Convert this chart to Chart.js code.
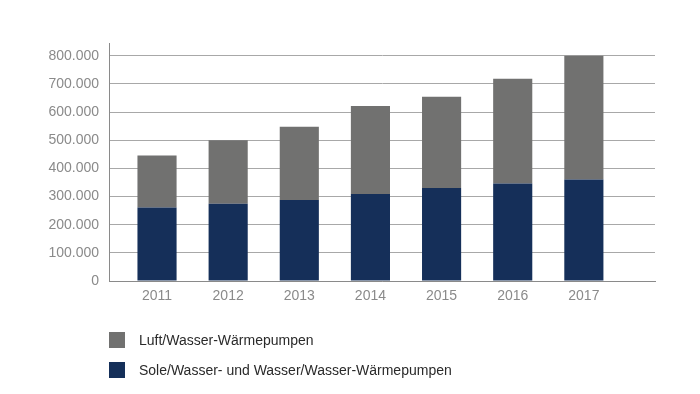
<!DOCTYPE html>
<html>
<head>
<meta charset="utf-8">
<script src="https://cdn.jsdelivr.net/npm/chart.js@4.4.0/dist/chart.umd.min.js"></script>
<style>
    html, body { margin: 0; padding: 0; background: #fff; }
    #wrap { position: relative; width: 700px; height: 394px; }
    #legend { position: absolute; left: 109px; top: 332px; font-family: "Liberation Sans", Arial, sans-serif; font-size: 14px; color: #2a2a2a; }
    .item { display: flex; align-items: center; height: 16px; margin-bottom: 14px; }
    .box { width: 16px; height: 16px; margin-right: 14px; }
</style>
</head>
<body>
<div id="wrap">
    <canvas id="bar" width="700" height="394"></canvas>
    <div id="legend"></div>
</div>
<script>
const years = [2011, 2012, 2013, 2014, 2015, 2016, 2017];
const soleWasser = [261000, 274000, 288000, 309000, 330000, 346000, 360000];
const luftWasser = [185000, 226000, 260000, 312000, 324000, 372000, 440000];
const yTicks = [0, 100000, 200000, 300000, 400000, 500000, 600000, 700000, 800000];
const seriesNames = ["Sole/Wasser- und Wasser/Wasser-Wärmepumpen", "Luft/Wasser-Wärmepumpen"];
const seriesColors = ["#152f59", "#717170"];

const tickFont = { family: "'Liberation Sans', Arial, sans-serif", size: 14 };
const tickColor = "#8a8a8a";

const htmlLegend = {
    id: "htmlLegend",
    afterUpdate(chart) {
        const container = document.getElementById("legend");
        container.innerHTML = "";
        chart.data.datasets.slice().reverse().forEach(ds => {
            const item = document.createElement("div");
            item.className = "item";
            const box = document.createElement("span");
            box.className = "box";
            box.style.background = ds.backgroundColor;
            const text = document.createElement("span");
            text.textContent = ds.label;
            item.appendChild(box);
            item.appendChild(text);
            container.appendChild(item);
        });
    }
};

new Chart(document.getElementById("bar"), {
    type: "bar",
    data: {
        datasets: [
            { label: seriesNames[0], data: years.map((y, i) => ({ x: y, y: soleWasser[i] })), backgroundColor: seriesColors[0] },
            { label: seriesNames[1], data: years.map((y, i) => ({ x: y, y: luftWasser[i] })), backgroundColor: seriesColors[1] }
        ]
    },
    options: {
        responsive: false,
        animation: false,
        barPercentage: 0.55,
        categoryPercentage: 1,
        layout: { padding: { left: 0, right: 45, top: 43, bottom: 0 } },
        plugins: { legend: { display: false }, tooltip: { enabled: false } },
        scales: {
            x: {
                type: "linear",
                stacked: true,
                offset: false,
                min: 2010.325,
                max: 2018,
                afterFit: s => { s.height = 113; },
                afterBuildTicks: s => { s.ticks = years.map(v => ({ value: v })); },
                grid: { display: false, drawTicks: false, offset: false },
                border: { display: true, color: "#8a8a8a", width: 1 },
                ticks: {
                    padding: 7,
                    color: tickColor,
                    font: tickFont,
                    callback: v => String(v)
                }
            },
            y: {
                stacked: true,
                min: 0,
                max: 845000,
                afterFit: s => { s.width = 109; },
                afterBuildTicks: s => { s.ticks = yTicks.map(v => ({ value: v })); },
                grid: { color: "#a8a8a8", lineWidth: 1, drawTicks: false },
                border: { display: true, color: "#8a8a8a", width: 1 },
                ticks: {
                    padding: 10,
                    color: tickColor,
                    font: tickFont,
                    callback: v => v.toLocaleString("de-DE")
                }
            }
        }
    },
    plugins: [htmlLegend]
});
</script>
</body>
</html>
